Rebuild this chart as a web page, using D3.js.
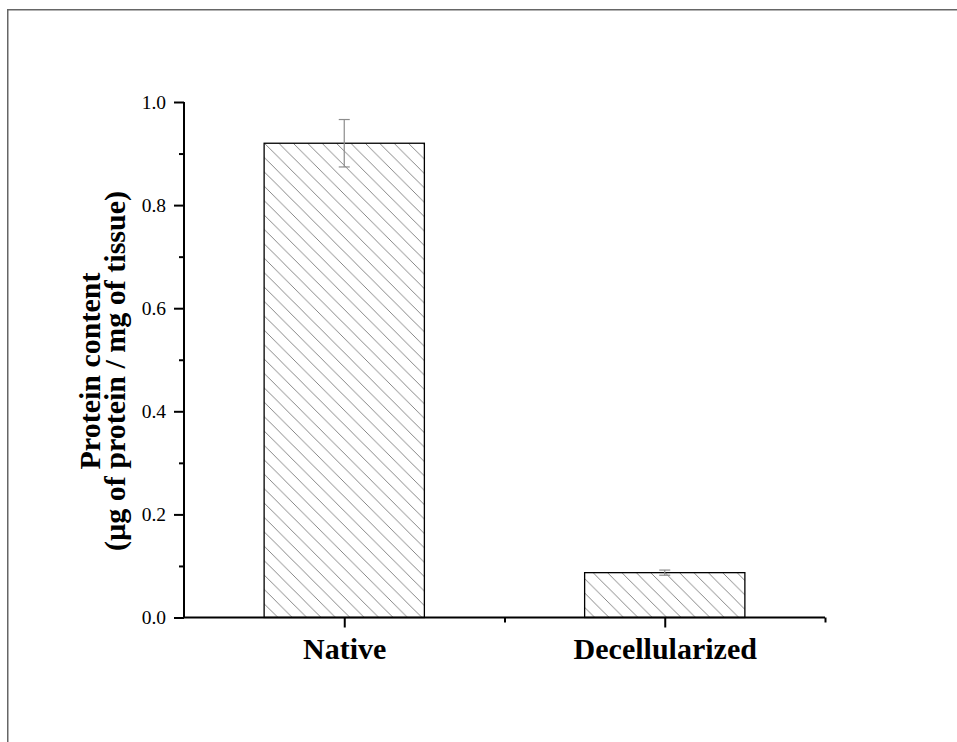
<!DOCTYPE html>
<html>
<head>
<meta charset="utf-8">
<script src="https://cdn.jsdelivr.net/npm/d3@7"></script>
<style>
  html, body { margin: 0; padding: 0; background: #fff; }
  svg { display: block; }
</style>
</head>
<body>
<svg id="chart" width="957" height="742"></svg>
<script>
// Protein content per mg of tissue, native vs decellularized
const categories = ["Native", "Decellularized"];
const means = [0.92, 0.087];
const errors = [0.046, 0.005];
const yMajorTicks = [0.0, 0.2, 0.4, 0.6, 0.8, 1.0];
const yMinorTicks = [0.1, 0.3, 0.5, 0.7, 0.9];
const xMinorTicks = [1.5, 2.5];

const svg = d3.select("#chart");
const W = 957, H = 742;

// outer frame (only top/left edges fall inside the canvas)
svg.append("rect")
  .attr("x", 7.75).attr("y", 9.75)
  .attr("width", W + 20).attr("height", H + 20)
  .attr("fill", "none").attr("stroke", "#666").attr("stroke-width", 1.5);

const x = d3.scaleLinear().domain([0.5, 2.5]).range([184, 825]);
const y = d3.scaleLinear().domain([0, 1]).range([617.5, 102]);
const barHalf = 0.25;

// diagonal hatch
const hs = 14.4;
const defs = svg.append("defs");
const pat = defs.append("pattern")
  .attr("id", "hatch")
  .attr("patternUnits", "userSpaceOnUse")
  .attr("width", hs).attr("height", hs)
  .attr("patternTransform", "translate(6,0)");
pat.append("rect").attr("width", hs).attr("height", hs).attr("fill", "#fff");
pat.append("path")
  .attr("d", `M-2,-2L${hs + 2},${hs + 2}M${-hs - 2},-2L2,${hs + 2}M${hs - 2},-2L${2 * hs + 2},${hs + 2}`)
  .attr("stroke", "#7a7a7a").attr("stroke-width", 0.9).attr("fill", "none");

// bars
const data = categories.map((c, i) => ({ c, pos: i + 1, v: means[i], e: errors[i] }));
svg.append("g").selectAll("rect")
  .data(data).join("rect")
  .attr("x", d => x(d.pos - barHalf))
  .attr("width", d => x(d.pos + barHalf) - x(d.pos - barHalf))
  .attr("y", d => y(d.v))
  .attr("height", d => y(0) - y(d.v))
  .attr("fill", "url(#hatch)")
  .attr("stroke", "#000").attr("stroke-width", 1.3);

// error bars
const eb = svg.append("g").attr("stroke", "#8c8c8c").attr("stroke-width", 1.2).attr("fill", "none");
data.forEach(d => {
  const cx = x(d.pos);
  eb.append("line").attr("x1", cx).attr("x2", cx).attr("y1", y(d.v + d.e)).attr("y2", y(d.v - d.e));
  [d.v + d.e, d.v - d.e].forEach(v => {
    eb.append("line").attr("x1", cx - 5.5).attr("x2", cx + 5.5).attr("y1", y(v)).attr("y2", y(v));
  });
});

// y axis
const yAxis = svg.append("g").attr("transform", `translate(${x(0.5)},0)`)
  .call(d3.axisLeft(y).tickValues(yMajorTicks).tickFormat(d3.format(".1f")).tickSize(10).tickPadding(8));
svg.append("g").attr("transform", `translate(${x(0.5)},0)`)
  .call(d3.axisLeft(y).tickValues(yMinorTicks).tickFormat("").tickSize(5))
  .select(".domain").remove();
yAxis.select(".domain").attr("d", `M0,${y(1)}V${y(0)}`);

// x axis
const xAxis = svg.append("g").attr("transform", `translate(0,${y(0)})`)
  .call(d3.axisBottom(x).tickValues([1, 2]).tickFormat((d, i) => categories[i]).tickSize(10).tickPadding(8));
svg.append("g").attr("transform", `translate(0,${y(0)})`)
  .call(d3.axisBottom(x).tickValues(xMinorTicks).tickFormat("").tickSize(5))
  .select(".domain").remove();
xAxis.select(".domain").attr("d", `M${x(0.5) - 1},0H${x(2.5)}`);

svg.selectAll(".domain, .tick line").attr("stroke", "#000").attr("stroke-width", 2);

yAxis.selectAll(".tick text")
  .attr("font-family", "'Liberation Serif', 'Times New Roman', serif")
  .attr("font-size", 19.5).attr("fill", "#000");

xAxis.selectAll(".tick text")
  .attr("font-family", "'Liberation Serif', 'Times New Roman', serif")
  .attr("font-size", 30).attr("font-weight", "bold").attr("fill", "#000")
  .attr("dy", null).attr("y", 41.5);

// y axis title, two lines
const title = svg.append("text")
  .attr("transform", "translate(100,371) rotate(-90)")
  .attr("text-anchor", "middle")
  .attr("font-family", "'Liberation Serif', 'Times New Roman', serif")
  .attr("font-size", 30).attr("font-weight", "bold").attr("fill", "#000");
title.append("tspan").attr("x", 0).attr("y", 0).text("Protein content");
title.append("tspan").attr("x", 0).attr("y", 25).text("(µg of protein / mg of tissue)");
</script>
</body>
</html>
